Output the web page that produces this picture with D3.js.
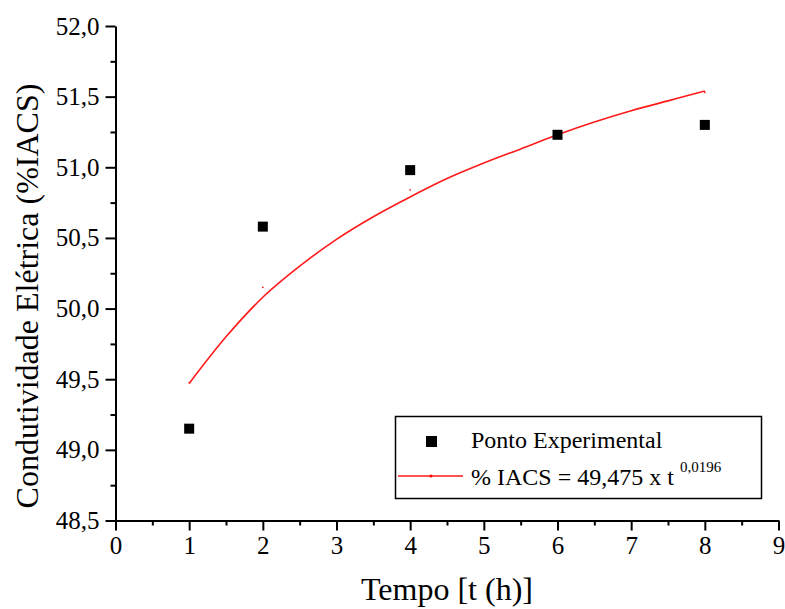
<!DOCTYPE html>
<html lang="pt">
	<head>
		<meta charset="UTF-8"/>
		<title>Condutividade Elétrica</title>
		<script type="text/javascript" src="https://cdn.jsdelivr.net/npm/d3@7"></script>
		<style>
			body { margin: 0; background: #fff; }
		</style>
	</head>
	<body>
		<script type="text/javascript">
			var w = 785;
			var h = 609;
			var serif = "'Liberation Serif', 'Times New Roman', serif";

			// Pontos experimentais
			var tempo = [1, 2, 4, 6, 8];
			var condutividade = [49.15, 50.58, 50.98, 51.23, 51.30];

			// Valores ajustados (pequenos pontos vermelhos)
			var ajustado = [49.475, 50.15, 50.84, 51.24, 51.53];

			// Curva ajustada
			var curvaT = [1, 1.5, 2, 2.5, 3, 3.5, 4, 4.5, 5, 5.5, 6, 6.5, 7, 7.5, 8];
			var curvaY = [49.47, 49.80, 50.08, 50.30, 50.49, 50.65, 50.79, 50.92, 51.03, 51.13, 51.23, 51.32, 51.40, 51.47, 51.54];

			var xTicks = [0, 1, 2, 3, 4, 5, 6, 7, 8, 9];
			var yTicks = [48.5, 49.0, 49.5, 50.0, 50.5, 51.0, 51.5, 52.0];

			var xScale = d3.scaleLinear()
				.domain([0, 9])
				.range([115.5, 778.5]);

			var yScale = d3.scaleLinear()
				.domain([48.5, 52.0])
				.range([520.5, 26]);

			var fmt = function(d) { return d3.format(".1f")(d).replace(".", ","); };

			var svg = d3.select("body")
				.append("svg")
				.attr("width", w)
				.attr("height", h)
				.style("font-family", serif);

			// Minor ticks
			svg.append("g")
				.attr("transform", "translate(0," + yScale(48.5) + ")")
				.call(d3.axisBottom(xScale).tickValues(d3.range(0.5, 9, 1)).tickSize(5).tickFormat(""))
				.call(function(g) { g.select(".domain").remove(); });

			svg.append("g")
				.attr("transform", "translate(" + xScale(0) + ",0)")
				.call(d3.axisLeft(yScale).tickValues(d3.range(48.75, 52, 0.5)).tickSize(5).tickFormat(""))
				.call(function(g) { g.select(".domain").remove(); });

			// Major axes
			svg.append("g")
				.attr("transform", "translate(0," + yScale(48.5) + ")")
				.call(d3.axisBottom(xScale).tickValues(xTicks).tickSize(10).tickSizeOuter(0).tickPadding(6).tickFormat(d3.format("d")));

			svg.append("g")
				.attr("transform", "translate(" + xScale(0) + ",0)")
				.call(d3.axisLeft(yScale).tickValues(yTicks).tickSize(10).tickSizeOuter(0).tickPadding(6).tickFormat(fmt));

			svg.selectAll("g").attr("font-family", null).attr("font-size", null);
			svg.selectAll(".tick line").attr("stroke", "#000").attr("stroke-width", 2);
			svg.selectAll(".domain").attr("stroke", "#000").attr("stroke-width", 2);
			svg.selectAll(".tick text")
				.style("font-family", serif)
				.style("font-size", "25px")
				.attr("fill", "#000");

			// Fitted curve
			var line = d3.line()
				.x(function(d, i) { return xScale(curvaT[i]); })
				.y(function(d) { return yScale(d); })
				.curve(d3.curveMonotoneX);

			svg.append("path")
				.datum(curvaY)
				.attr("d", line)
				.attr("fill", "none")
				.attr("stroke", "#ff1a1a")
				.attr("stroke-width", 1.6);

			svg.selectAll("circle.fit")
				.data(ajustado)
				.enter()
				.append("circle")
				.attr("class", "fit")
				.attr("cx", function(d, i) { return xScale(tempo[i]); })
				.attr("cy", function(d) { return yScale(d); })
				.attr("r", 0.8)
				.attr("fill", "#ff0000");

			// Experimental points
			var s = 10;
			svg.selectAll("rect.pt")
				.data(condutividade)
				.enter()
				.append("rect")
				.attr("class", "pt")
				.attr("x", function(d, i) { return xScale(tempo[i]) - s / 2; })
				.attr("y", function(d) { return yScale(d) - s / 2; })
				.attr("width", s)
				.attr("height", s)
				.attr("fill", "#000");

			// Axis titles
			svg.append("text")
				.text("Tempo [t (h)]")
				.attr("x", (xScale(0) + xScale(9)) / 2)
				.attr("y", 600)
				.style("font-family", serif)
				.style("font-size", "32px")
				.attr("text-anchor", "middle");

			svg.append("text")
				.text("Condutividade Elétrica (%IACS)")
				.attr("transform", "translate(38," + 296 + ") rotate(-90)")
				.style("font-family", serif)
				.style("font-size", "32px")
				.attr("text-anchor", "middle");

			// Legend
			var legend = svg.append("g");

			legend.append("rect")
				.attr("x", 395.5)
				.attr("y", 416.5)
				.attr("width", 366)
				.attr("height", 82)
				.attr("fill", "#fff")
				.attr("stroke", "#000")
				.attr("stroke-width", 1.5);

			legend.append("rect")
				.attr("x", 426)
				.attr("y", 436)
				.attr("width", 11)
				.attr("height", 11)
				.attr("fill", "#000");

			legend.append("text")
				.text("Ponto Experimental")
				.attr("x", 471)
				.attr("y", 448)
				.style("font-family", serif)
				.style("font-size", "24px");

			legend.append("line")
				.attr("x1", 398)
				.attr("x2", 463)
				.attr("y1", 476)
				.attr("y2", 476)
				.attr("stroke", "#ff1a1a")
				.attr("stroke-width", 1.5);

			legend.append("circle")
				.attr("cx", 431)
				.attr("cy", 476)
				.attr("r", 1.5)
				.attr("fill", "#ff0000");

			var eq = legend.append("text")
				.attr("x", 471)
				.attr("y", 485)
				.style("font-family", serif)
				.style("font-size", "24px");
			eq.append("tspan").text("% IACS = 49,475 x t ");
			eq.append("tspan")
				.text("0,0196")
				.style("font-size", "15px")
				.attr("dy", -13);
		</script>
	</body>
</html>
